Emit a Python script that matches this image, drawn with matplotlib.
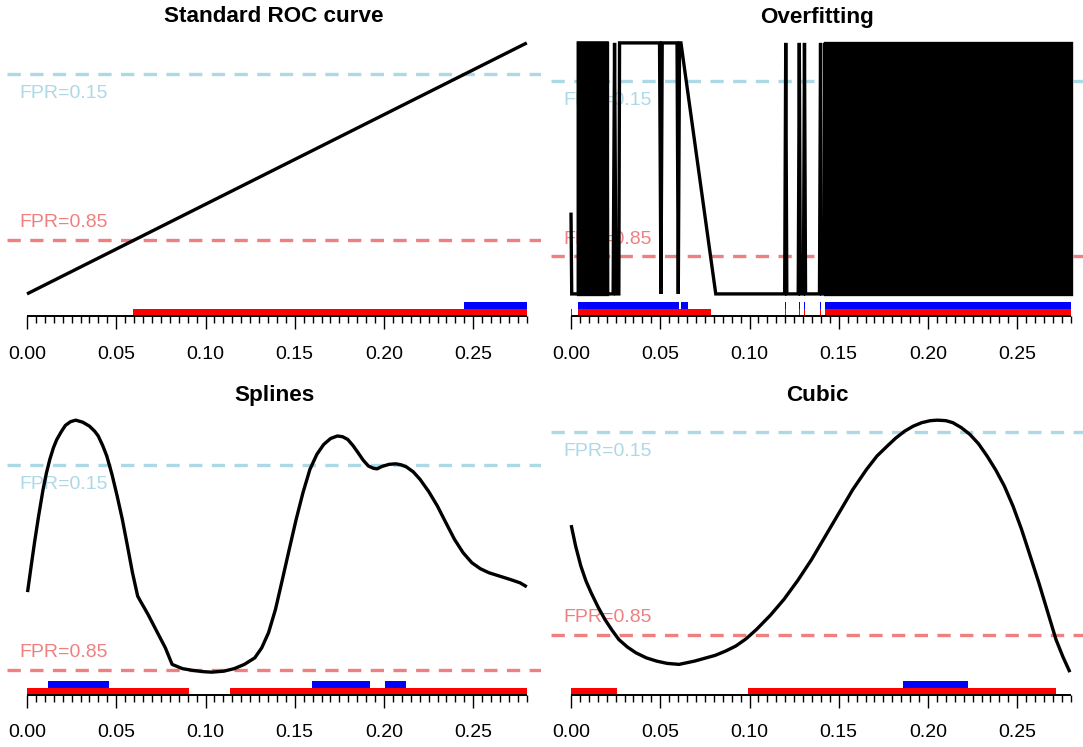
import matplotlib
matplotlib.use("Agg")
import matplotlib.pyplot as plt
from matplotlib.patches import Rectangle
from matplotlib.ticker import FixedLocator

plt.rcParams['font.family'] = ['Liberation Sans', 'DejaVu Sans']

# ---------------- data ----------------
thr_labels = ["FPR=0.15", "FPR=0.85"]
thr_colors = ["#ADD8E6", "#F08080"]
tick_values = [0.00, 0.05, 0.10, 0.15, 0.20, 0.25]
tick_labels = ["0.00", "0.05", "0.10", "0.15", "0.20", "0.25"]
x_max = 0.28
titles = ["Standard ROC curve", "Overfitting", "Splines", "Cubic"]

# Standard ROC curve
std_x = [0.0, 0.28]
std_p = [0.0, 1.0]
std_thr = [0.876, 0.215]
std_blue = [(0.2449, 0.28)]
std_red = [(0.0595, 0.28)]

# Overfitting (sparse part of the curve + dense oscillation blocks)
over_x = [0.0000, 0.0004, 0.0041, 0.0041, 0.0202, 0.0205, 0.0236, 0.0244, 0.0252,
          0.0268, 0.0272, 0.0496, 0.0504, 0.0511, 0.0594, 0.0601, 0.0608, 0.0616,
          0.0811, 0.1197, 0.1203, 0.1209, 0.1273, 0.1279, 0.1285, 0.1302, 0.1308,
          0.1314, 0.1392, 0.1398, 0.1404, 0.1421, 0.1421]
over_p = [0.324, 0.0, 0.0, 1.0, 1.0, 0.0, 0.0, 1.0, 0.0,
          0.0, 1.0, 1.0, 0.0, 1.0, 1.0, 0.0, 1.0, 1.0,
          0.0, 0.0, 1.0, 0.0, 0.0, 1.0, 0.0, 0.0, 1.0,
          0.0, 0.0, 1.0, 0.0, 0.0, 1.0]
over_dense = [(0.0041, 0.0202), (0.1421, 0.28)]
over_thr = [0.848, 0.151]
over_blue = [(0.0041, 0.0605), (0.0615, 0.0654), (0.1200, 0.1207), (0.1276, 0.1283),
             (0.1305, 0.1312), (0.1395, 0.1402), (0.1425, 0.28)]
over_red = [(0.0000, 0.0008), (0.0041, 0.0784), (0.1199, 0.1207), (0.1275, 0.1283),
            (0.1304, 0.1312), (0.1394, 0.1402), (0.1425, 0.28)]

# Splines
spl_x = [0.0003, 0.0022, 0.0042, 0.0065, 0.0090, 0.0109, 0.0128, 0.0148, 0.0167,
         0.0192, 0.0215, 0.0244, 0.0273, 0.0312, 0.0350, 0.0379, 0.0399, 0.0424,
         0.0447, 0.0476, 0.0505, 0.0534, 0.0563, 0.0591, 0.0620, 0.0630, 0.0678,
         0.0726, 0.0775, 0.0813, 0.0871, 0.0929, 0.0987, 0.1035, 0.1103, 0.1161,
         0.1218, 0.1276, 0.1315, 0.1353, 0.1392, 0.1431, 0.1469, 0.1508, 0.1546,
         0.1585, 0.1624, 0.1662, 0.1701, 0.1739, 0.1768, 0.1797, 0.1826, 0.1855,
         0.1884, 0.1913, 0.1942, 0.1961, 0.1990, 0.2029, 0.2067, 0.2096, 0.2125,
         0.2164, 0.2202, 0.2251, 0.2299, 0.2347, 0.2395, 0.2443, 0.2492, 0.2540,
         0.2588, 0.2646, 0.2704, 0.2762, 0.2800]
spl_p = [0.320, 0.417, 0.517, 0.623, 0.729, 0.795, 0.849, 0.895, 0.928,
         0.959, 0.984, 0.999, 1.005, 0.997, 0.981, 0.961, 0.942, 0.904,
         0.862, 0.789, 0.703, 0.610, 0.503, 0.397, 0.304, 0.291, 0.231,
         0.165, 0.098, 0.032, 0.015, 0.008, 0.003, 0.001, 0.005, 0.015,
         0.032, 0.058, 0.098, 0.158, 0.251, 0.371, 0.490, 0.610, 0.716,
         0.809, 0.869, 0.908, 0.932, 0.942, 0.939, 0.928, 0.904, 0.875,
         0.845, 0.822, 0.813, 0.811, 0.821, 0.829, 0.831, 0.827, 0.819,
         0.799, 0.769, 0.720, 0.663, 0.596, 0.530, 0.477, 0.437, 0.413,
         0.397, 0.384, 0.371, 0.357, 0.341]
spl_thr = [0.825, 0.011]
spl_blue = [(0.0119, 0.0462), (0.1597, 0.1919), (0.2006, 0.2121)]
spl_red = [(0.0, 0.0908), (0.1138, 0.28)]

# Cubic
cub_x = [0.0001, 0.0026, 0.0055, 0.0084, 0.0113, 0.0152, 0.0190, 0.0229, 0.0268,
         0.0316, 0.0364, 0.0422, 0.0480, 0.0538, 0.0605, 0.0692, 0.0808, 0.0866,
         0.0923, 0.0981, 0.1039, 0.1116, 0.1193, 0.1271, 0.1348, 0.1425, 0.1502,
         0.1579, 0.1656, 0.1714, 0.1772, 0.1820, 0.1869, 0.1917, 0.1965, 0.2013,
         0.2052, 0.2100, 0.2139, 0.2187, 0.2235, 0.2283, 0.2331, 0.2380, 0.2428,
         0.2476, 0.2524, 0.2573, 0.2621, 0.2669, 0.2717, 0.2756, 0.2795]
cub_p = [0.587, 0.503, 0.424, 0.364, 0.317, 0.260, 0.211, 0.169, 0.131,
         0.101, 0.078, 0.058, 0.045, 0.036, 0.032, 0.045, 0.068, 0.085,
         0.105, 0.134, 0.171, 0.227, 0.291, 0.367, 0.450, 0.543, 0.636,
         0.729, 0.809, 0.862, 0.902, 0.934, 0.961, 0.981, 0.995, 1.003,
         1.005, 1.003, 0.995, 0.975, 0.948, 0.911, 0.862, 0.806, 0.742,
         0.663, 0.570, 0.463, 0.357, 0.244, 0.131, 0.062, 0.001]
cub_thr = [0.956, 0.151]
cub_blue = [(0.1859, 0.2222)]
cub_red = [(0.0, 0.0258), (0.0991, 0.2717)]

# ---------------- layout ----------------
W, H, DPI = 1083, 747, 100
fig = plt.figure(figsize=(W / DPI, H / DPI), dpi=DPI)

PX_PER_X = 1785.0
PX_PER_P = 251.0
Y_LO, Y_HI = -0.09, 1.04
ax_h_px = (Y_HI - Y_LO) * PX_PER_P
cols = [(7, 541, 27), (551, 1083, 571)]     # left px, right px, px of x=0
rows = [(316.5, 22.5), (695.0, 401.0)]      # axis-line px, title baseline px

LW = 2.4
BAR_RED = (-0.090, -0.062)
BAR_BLUE = (-0.062, -0.034)


def make_ax(r, c):
    l, rr, x0 = cols[c]
    bottom, _ = rows[r]
    ax = fig.add_axes([l / W, 1 - bottom / H, (rr - l) / W, ax_h_px / H])
    ax.set_xlim((l - x0) / PX_PER_X, (rr - x0) / PX_PER_X)
    ax.set_ylim(Y_LO, Y_HI)
    for s in ("top", "left", "right"):
        ax.spines[s].set_visible(False)
    ax.spines["bottom"].set_bounds(0, x_max)
    ax.spines["bottom"].set_linewidth(1.4)
    ax.spines["bottom"].set_capstyle("butt")
    ax.set_yticks([])
    ax.xaxis.set_major_locator(FixedLocator(tick_values))
    ax.set_xticklabels(tick_labels)
    ax.xaxis.set_minor_locator(FixedLocator([i * 0.005 for i in range(57)]))
    ax.tick_params(axis="x", which="major", length=9.0, width=1.0, pad=12.0,
                   labelsize=14, direction="out", color="black")
    ax.tick_params(axis="x", which="minor", length=4.7, width=1.0, direction="out",
                   color="black")
    ax.patch.set_visible(False)
    cx = (l + rr) / 2 / W
    fig.text(cx, 1 - rows[r][1] / H, titles[r * 2 + c], ha="center", va="baseline",
             fontsize=16.2, fontweight="bold")
    return ax


def thresholds(ax, thr):
    for k, (y, lab, col) in enumerate(zip(thr, thr_labels, thr_colors)):
        ax.axhline(y, color=col, lw=LW, linestyle=(0, (13.3 / LW * 0.72, 9.4 / LW * 0.72)),
                   dash_capstyle="butt", zorder=2)
        off = -23.5 if k == 0 else 12.5
        ax.annotate(lab, xy=(-0.0045, y), xytext=(0, off), textcoords="offset pixels",
                    ha="left", va="baseline", color=col, fontsize=14, zorder=3)


def rugs(ax, blue, red):
    ax.broken_barh([(a, b - a) for a, b in red], (BAR_RED[0], BAR_RED[1] - BAR_RED[0]),
                   facecolors="#FF0000", linewidth=0, zorder=1)
    ax.broken_barh([(a, b - a) for a, b in blue], (BAR_BLUE[0], BAR_BLUE[1] - BAR_BLUE[0]),
                   facecolors="#0000FF", linewidth=0, zorder=1)


# Panel 1: Standard
ax1 = make_ax(0, 0)
thresholds(ax1, std_thr)
ax1.plot(std_x, std_p, color="black", lw=LW, solid_capstyle="butt", zorder=4)
rugs(ax1, std_blue, std_red)

# Panel 2: Overfitting
ax2 = make_ax(0, 1)
thresholds(ax2, over_thr)
ax2.plot(over_x, over_p, color="black", lw=LW, solid_joinstyle="miter",
         solid_capstyle="butt", zorder=4)
for a, b in over_dense:
    ax2.add_patch(Rectangle((a, 0.0), b - a, 1.0, facecolor="black", edgecolor="black",
                            lw=LW, joinstyle="miter", zorder=4))
rugs(ax2, over_blue, over_red)

# Panel 3: Splines
ax3 = make_ax(1, 0)
thresholds(ax3, spl_thr)
ax3.plot(spl_x, spl_p, color="black", lw=LW, solid_capstyle="butt",
         solid_joinstyle="round", zorder=4)
rugs(ax3, spl_blue, spl_red)

# Panel 4: Cubic
ax4 = make_ax(1, 1)
thresholds(ax4, cub_thr)
ax4.plot(cub_x, cub_p, color="black", lw=LW, solid_capstyle="butt",
         solid_joinstyle="round", zorder=4)
rugs(ax4, cub_blue, cub_red)

fig.savefig("out.png", dpi=DPI)
